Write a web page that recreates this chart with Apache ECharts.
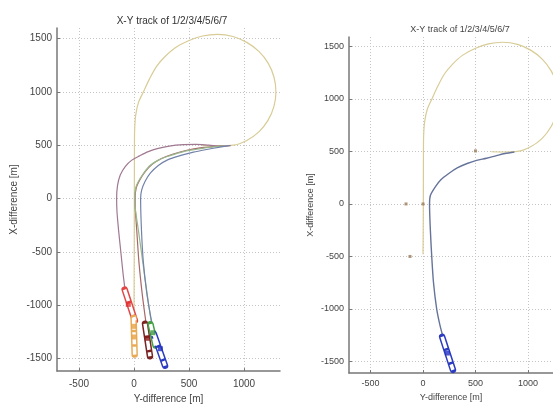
<!DOCTYPE html>
<html>
<head>
<meta charset="utf-8">
<script src="https://cdn.jsdelivr.net/npm/echarts@6/dist/echarts.min.js"></script>
<style>
html,body{margin:0;padding:0;background:#fff}
#chart{width:553px;height:409px}
</style>
</head>
<body>
<div id="chart"></div>
<script>
// points are [Y-difference, X-difference] in metres
var titleText = 'X-Y track of 1/2/3/4/5/6/7';
var xTicks = [-500, 0, 500, 1000];
var yTicks = [-1500, -1000, -500, 0, 500, 1000, 1500];

var loopTrack = [[0,-1460],[0,-1100],[2,-500],[3,0],[4,500],[6,650],[15,780],[40,900],[85,1000],[140,1120],[205,1240],[280,1330],[375,1415],[495,1480],[623,1525],[760,1540],[900,1520],[1025,1465],[1135,1380],[1219,1270],[1272,1140],[1290,1000],[1272,865],[1219,735],[1135,625],[1025,545],[900,500],[780,495],[620,497]];
var track1 = [[-82,-850],[-100,-700],[-120,-500],[-140,-300],[-155,-120],[-158,0],[-150,120],[-125,220],[-80,300],[-20,360],[50,400],[130,440],[220,470],[320,492],[450,505],[560,507],[680,500],[800,492],[880,497]];
var track3 = [[110,-1175],[75,-900],[45,-600],[25,-300],[12,-100],[10,0],[20,100],[50,170],[100,250],[165,320],[250,375],[350,415],[470,450],[600,475],[720,488],[820,495]];
var track4 = [[160,-1180],[120,-900],[80,-600],[40,-300],[12,-100],[6,0],[15,100],[40,160],[90,240],[145,310],[230,365],[327,402],[450,440],[570,462],[700,482],[820,494]];
var track5 = [[185,-1275],[150,-1100],[115,-880],[85,-600],[68,-300],[60,0],[70,80],[100,160],[150,240],[221,310],[310,365],[418,402],[540,435],[661,460],[780,482],[870,497]];

// vehicle bodies at the end of each track: [front, rear]
var vehRed = [[-85,-855],[8,-1145]];
var vehOrange = [[-4,-1120],[6,-1465]];
var vehDarkRed = [[100,-1175],[145,-1480]];
var vehGreen = [[150,-1180],[195,-1380]];
var vehBlue = [[180,-1270],[282,-1570]];
var dotsRed = [[-52,-994]];
var dotsOrange = [[-2,-1200],[0,-1300]];
var dotsDarkRed = [[121,-1312]];
var dotsGreen = [[172,-1260]];
var dotsBlue = [[240,-1410]];

// right panel
var loopTrackR = [[0,-480],[2,-200],[3,0],[4,500],[6,650],[15,780],[40,900],[85,1000],[140,1120],[205,1240],[280,1330],[375,1415],[495,1480],[623,1525],[760,1540],[900,1520],[1025,1465],[1135,1380],[1219,1270],[1272,1140],[1290,1000],[1272,865],[1219,735],[1135,625],[1025,545],[900,500],[780,495],[650,497]];
var trackR = [[190,-1265],[160,-1150],[130,-1000],[100,-750],[83,-500],[70,-250],[62,0],[70,80],[115,160],[170,230],[245,290],[330,345],[420,385],[510,415],[605,435],[700,460],[780,480],[870,495]];
var vehBlueR = [[182,-1265],[285,-1580]];
var dotsBlueR = [[232,-1420]];
var marksR = [[-162,0],[-124,-500],[500,505],[0,0]];

var font = '"Liberation Sans", Arial, sans-serif';
var plain = function (v) { return String(v); };

function axisX(idx, min, max, fs, gap, margin) {
  return {
    type: 'value', gridIndex: idx, min: min, max: max,
    name: 'Y-difference [m]', nameLocation: 'middle', nameGap: gap,
    nameTextStyle: {color: '#444', fontSize: fs, fontFamily: font},
    axisLine: {onZero: false, lineStyle: {color: '#777', width: 1.5}},
    axisTick: {inside: true, length: 3, customValues: xTicks, lineStyle: {color: '#777'}},
    axisLabel: {customValues: xTicks, formatter: plain, color: '#444', fontSize: fs, fontFamily: font, margin: margin},
    splitLine: {show: true, lineStyle: {color: '#c4c4c4', type: [1, 2]}}
  };
}
function axisY(idx, min, max, fs, gap) {
  return {
    type: 'value', gridIndex: idx, min: min, max: max,
    name: 'X-difference [m]', nameLocation: 'middle', nameGap: gap, nameRotate: 90,
    nameTextStyle: {color: '#444', fontSize: fs, fontFamily: font},
    axisLine: {onZero: false, lineStyle: {color: '#777', width: 1.5}},
    axisTick: {inside: true, length: 3, customValues: yTicks, lineStyle: {color: '#777'}},
    axisLabel: {customValues: yTicks, formatter: plain, color: '#444', fontSize: fs, fontFamily: font, margin: 5},
    splitLine: {show: true, lineStyle: {color: '#c4c4c4', type: [1, 2]}}
  };
}

function track(idx, data, color, w) {
  return {type: 'line', xAxisIndex: idx, yAxisIndex: idx, data: data, smooth: 0.3,
    showSymbol: false, silent: true, lineStyle: {color: color, width: w || 1.2}, z: 2};
}
function vehicle(idx, data, color) {
  return [
    {type: 'line', xAxisIndex: idx, yAxisIndex: idx, data: data, showSymbol: false, silent: true,
      lineStyle: {color: color, width: 6.5, cap: 'round'}, z: 3},
    {type: 'line', xAxisIndex: idx, yAxisIndex: idx, data: data, showSymbol: false, silent: true,
      lineStyle: {color: '#fff', width: 3.5, type: [12, 2.5], cap: 'butt'}, z: 4}
  ];
}
function dots(idx, data, color, size) {
  return {type: 'scatter', xAxisIndex: idx, yAxisIndex: idx, data: data, symbol: 'rect',
    symbolSize: size || 5, silent: true, itemStyle: {color: color}, z: 5};
}

var series = [
  track(0, loopTrack, '#d8cc96'),
  track(0, track1, '#a07892'),
  track(0, track3, '#a8686a'),
  track(0, track4, '#98b88c'),
  track(0, track5, '#7282aa'),
  track(1, loopTrackR, '#d8cc96'),
  track(1, trackR, '#66739a', 1.4),
  dots(0, dotsRed, '#e03030'),
  dots(0, dotsOrange, '#e8a040'),
  dots(0, dotsDarkRed, '#8a1c1c'),
  dots(0, dotsGreen, '#3a9a3a'),
  dots(0, dotsBlue, '#2030c0'),
  dots(1, dotsBlueR, '#2030c0'),
  dots(1, marksR, '#9a7a5a', 3)
];
series = series.concat(
  vehicle(0, vehRed, '#e04848'),
  vehicle(0, vehOrange, '#e8ac58'),
  vehicle(0, vehDarkRed, '#7a2424'),
  vehicle(0, vehGreen, '#44a044'),
  vehicle(0, vehBlue, '#2c3cc0'),
  vehicle(1, vehBlueR, '#2c3cc0')
);

var chart = echarts.init(document.getElementById('chart'));
chart.setOption({
  backgroundColor: '#fff',
  animation: false,
  title: [
    {text: titleText, left: 167, top: 11, textAlign: 'center',
      textStyle: {color: '#333', fontSize: 10, fontWeight: 'normal', fontFamily: font}},
    {text: titleText, left: 455, top: 20, textAlign: 'center',
      textStyle: {color: '#444', fontSize: 9, fontWeight: 'normal', fontFamily: font}}
  ],
  grid: [
    {left: 57, top: 28, width: 223, height: 354},
    {left: 349, top: 37, width: 204, height: 336}
  ],
  xAxis: [axisX(0, -700, 1327, 10, 21, 8), axisX(1, -705, 1238, 9, 15, 6)],
  yAxis: [axisY(0, -1620, 1600, 10, 38), axisY(1, -1610, 1590, 9, 34)],
  series: series
});
</script>
</body>
</html>
